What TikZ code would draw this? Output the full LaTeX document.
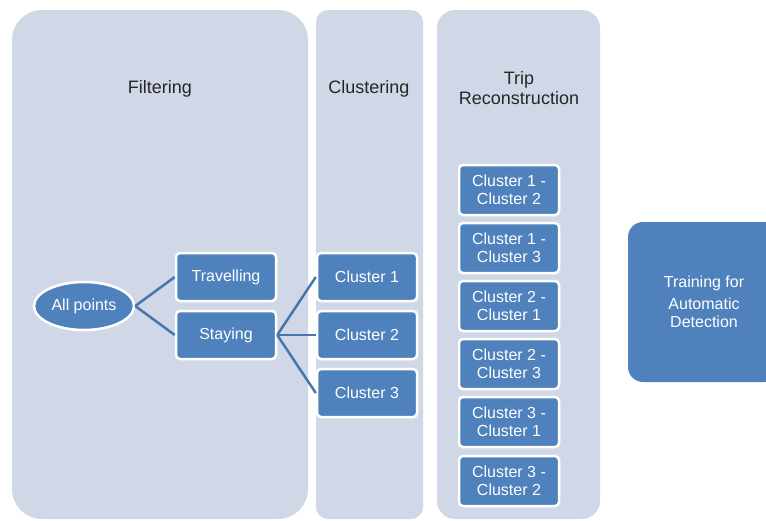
\documentclass[tikz,border=0pt]{standalone}
\usepackage{fontspec}
\setmainfont{Liberation Sans}
\usetikzlibrary{shapes.geometric}

\definecolor{panelfill}{HTML}{D0D8E8}
\definecolor{boxfill}{HTML}{4F81BD}
\definecolor{linkcol}{HTML}{4676AE}

\tikzset{
  stage/.style={fill=panelfill, draw=none},
  stagetitle/.style={font=\fontsize{18}{20}\selectfont, align=center, text=black!85},
  item/.style={rectangle, rounded corners=4pt, fill=boxfill, draw=white, line width=2.5pt,
    text=white, minimum width=100pt, minimum height=48pt, inner sep=1pt,
    font=\fontsize{16}{18}\selectfont, align=center},
  pair/.style={item, minimum height=50pt},
  link/.style={draw=linkcol, line width=2.5pt}
}

\begin{document}
\begin{tikzpicture}[x=1pt, y=-1pt]
  \clip (0,0) rectangle (766,520);

  % Bandas de fondo
  \fill[stage, rounded corners=30pt] (12,10) rectangle (308,519);
  \fill[stage, rounded corners=12pt] (316,10) rectangle (423,519);
  \fill[stage, rounded corners=18pt] (437,10) rectangle (600,519);

  % Titulos
  \node[stagetitle] (tfilt) at (160,89) {Filtering};
  \node[stagetitle] (tclus) at (369,89) {Clustering};
  \node[stagetitle] (ttrip) at (519,88) {Trip\\Reconstruction};

  % Filtrado
  \node[item, ellipse, minimum width=100pt, minimum height=48pt] (allp) at (84,306) {All points};
  \node[item] (trav) at (226,277) {Travelling};
  \node[item] (stay) at (226,335) {Staying};

  % Clusters
  \node[item] (c1) at (367,277) {Cluster 1};
  \node[item] (c2) at (367,335) {Cluster 2};
  \node[item] (c3) at (367,393) {Cluster 3};

  % Viajes
  \node[pair] (p12) at (509,190) {Cluster 1 -\\Cluster 2};
  \node[pair] (p13) at (509,248) {Cluster 1 -\\Cluster 3};
  \node[pair] (p21) at (509,306) {Cluster 2 -\\Cluster 1};
  \node[pair] (p23) at (509,364) {Cluster 2 -\\Cluster 3};
  \node[pair] (p31) at (509,422) {Cluster 3 -\\Cluster 1};
  \node[pair] (p32) at (509,481) {Cluster 3 -\\Cluster 2};

  % Entrenamiento
  \node[item, rounded corners=15pt, line width=0pt, draw=none, minimum width=152pt,
    minimum height=160pt] (train) at (704,302) {Training for\\[4pt]Automatic\\Detection};

  % Conexiones
  \draw[link] (allp.east) -- (trav.west);
  \draw[link] (allp.east) -- (stay.west);
  \draw[link] (stay.east) -- (c1.west);
  \draw[link] (stay.east) -- (c2.west);
  \draw[link] (stay.east) -- (c3.west);
\end{tikzpicture}
\end{document}
